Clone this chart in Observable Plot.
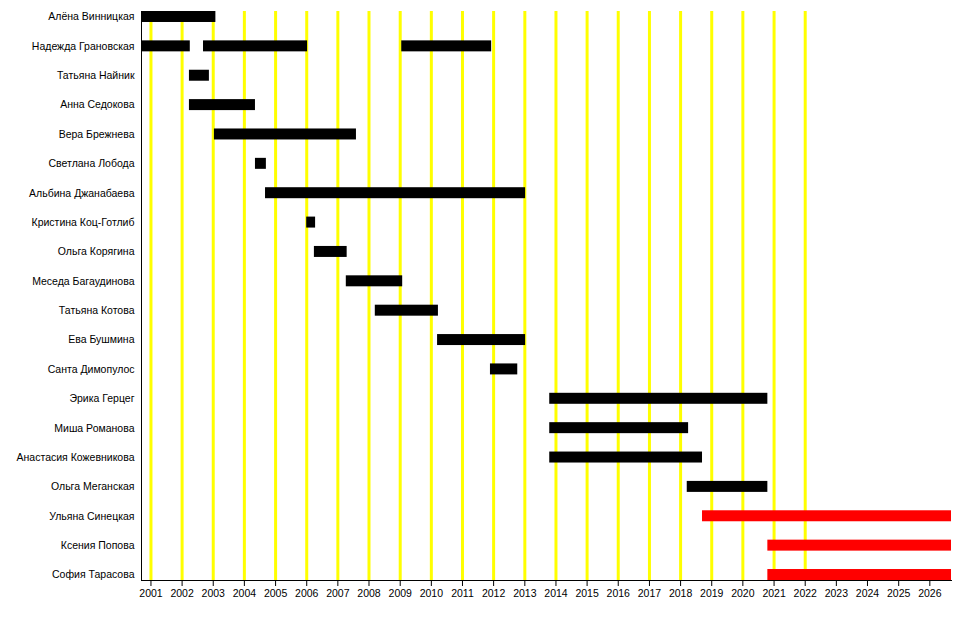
<!DOCTYPE html>
<html>
<head>
<meta charset="utf-8">
<script src="https://cdn.jsdelivr.net/npm/d3@7"></script>
<script src="https://cdn.jsdelivr.net/npm/@observablehq/plot@0.6"></script>
<style>
  body { margin: 0; background: #fff; }
</style>
</head>
<body>
<div id="chart"></div>
<script>
// участницы, по порядку сверху вниз
const members = [
  "Алёна Винницкая", "Надежда Грановская", "Татьяна Найник", "Анна Седокова",
  "Вера Брежнева", "Светлана Лобода", "Альбина Джанабаева", "Кристина Коц-Готлиб",
  "Ольга Корягина", "Меседа Багаудинова", "Татьяна Котова", "Ева Бушмина",
  "Санта Димопулос", "Эрика Герцег", "Миша Романова", "Анастасия Кожевникова",
  "Ольга Меганская", "Ульяна Синецкая", "Ксения Попова", "София Тарасова"
];

// периоды в группе (прошлые составы)
const formerNames = [
  "Алёна Винницкая", "Надежда Грановская", "Надежда Грановская", "Надежда Грановская",
  "Татьяна Найник", "Анна Седокова", "Вера Брежнева", "Светлана Лобода",
  "Альбина Джанабаева", "Кристина Коц-Готлиб", "Ольга Корягина", "Меседа Багаудинова",
  "Татьяна Котова", "Ева Бушмина", "Санта Димопулос", "Эрика Герцег",
  "Миша Романова", "Анастасия Кожевникова", "Ольга Меганская"
];
const formerStart = [
  "2000-09-12", "2000-09-12", "2002-09-09", "2009-01-19",
  "2002-03-28", "2002-03-28", "2003-01-15", "2004-05-10",
  "2004-09-05", "2006-01-01", "2006-04-01", "2007-04-10",
  "2008-03-15", "2010-03-15", "2011-11-25", "2013-10-20",
  "2013-10-20", "2013-10-20", "2018-03-20"
];
const formerEnd = [
  "2003-02-01", "2002-04-07", "2006-01-11", "2011-12-09",
  "2002-11-17", "2004-05-10", "2007-08-07", "2004-09-15",
  "2013-01-10", "2006-04-15", "2007-04-20", "2009-01-30",
  "2010-03-25", "2013-01-10", "2012-10-10", "2020-10-20",
  "2018-04-05", "2018-09-15", "2020-10-20"
];

// нынешний состав
const currentNames = ["Ульяна Синецкая", "Ксения Попова", "София Тарасова"];
const currentStart = ["2018-09-15", "2020-10-20", "2020-10-20"];
const currentEnd = ["2026-09-12", "2026-09-12", "2026-09-12"];

const timelineStart = "2000-09-12";
const timelineEnd = "2026-09-12";
const gridYears = d3.range(2001, 2023);
const tickYears = d3.range(2001, 2027);

const former = formerNames.map((name, i) => ({
  name, start: new Date(formerStart[i]), end: new Date(formerEnd[i])
}));
const current = currentNames.map((name, i) => ({
  name, start: new Date(currentStart[i]), end: new Date(currentEnd[i])
}));

const plot = Plot.plot({
  width: 960,
  height: 620,
  marginLeft: 141,
  marginRight: 9,
  marginTop: 11,
  marginBottom: 40,
  style: { fontFamily: "Liberation Sans, Arial, sans-serif", fontSize: "10.5px", background: "#fff", color: "#000" },
  x: {
    type: "utc",
    domain: [new Date(timelineStart), new Date(timelineEnd)],
    ticks: tickYears.map(y => new Date(Date.UTC(y, 0, 1))),
    tickFormat: "%Y",
    tickSize: 6,
    tickPadding: 3,
    line: true,
    label: null
  },
  y: {
    domain: members,
    paddingInner: 0.626,
    paddingOuter: 0,
    round: false,
    tickSize: 0,
    tickPadding: 7,
    line: true,
    label: null
  },
  marks: [
    Plot.ruleX(gridYears.map(y => new Date(Date.UTC(y, 0, 1))), { stroke: "#ffff00", strokeWidth: 3 }),
    Plot.barX(former, { x1: "start", x2: "end", y: "name", fill: "#000" }),
    Plot.barX(current, { x1: "start", x2: "end", y: "name", fill: "#ff0000" })
  ]
});

document.getElementById("chart").appendChild(plot);
</script>
</body>
</html>
